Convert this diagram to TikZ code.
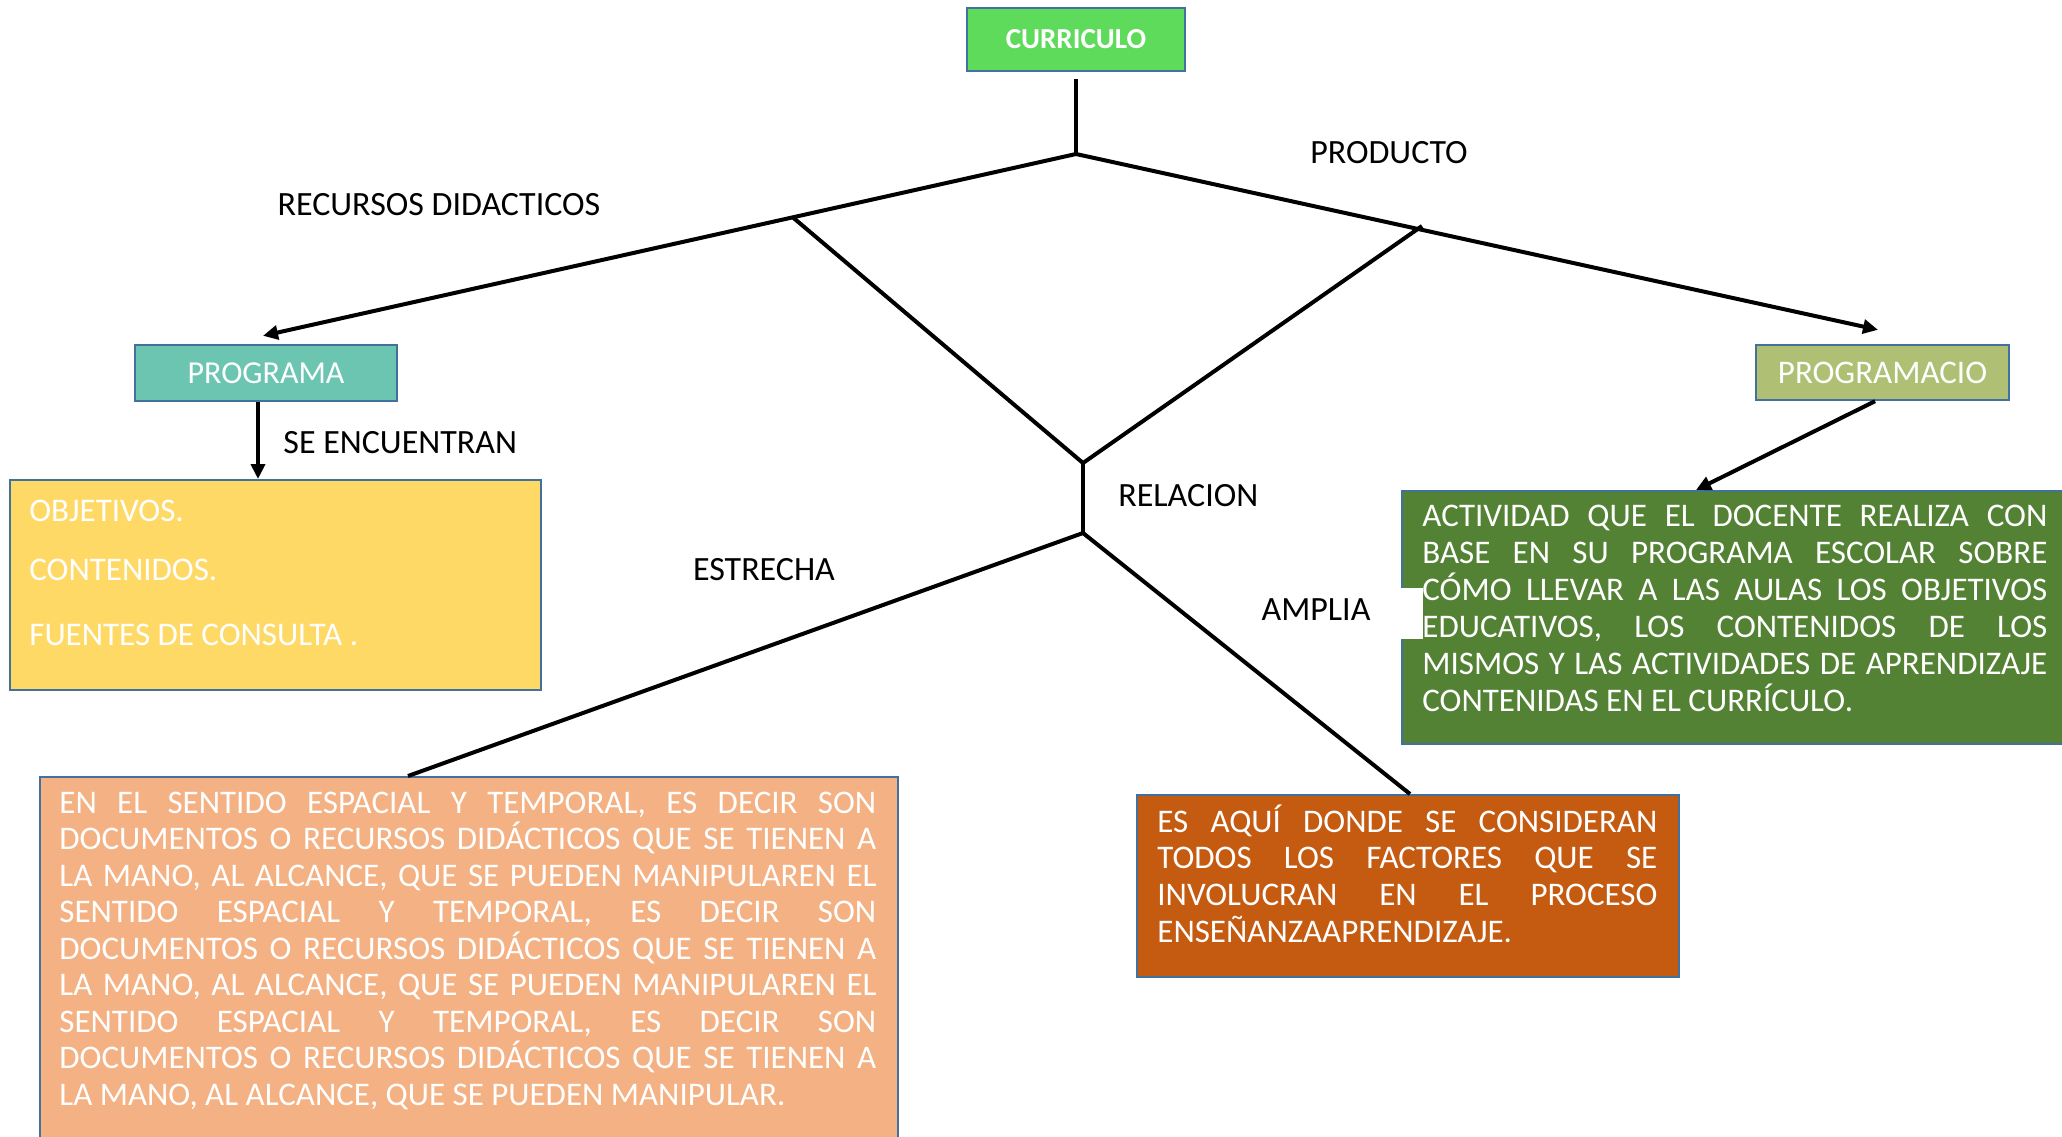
\documentclass[tikz,border=0pt]{standalone}
\usepackage{fontspec}
\setmainfont{Carlito}
\usepackage{xcolor}
\usetikzlibrary{arrows.meta}

\definecolor{curgreen}{HTML}{5EDB5B}
\definecolor{progteal}{HTML}{6CC5B1}
\definecolor{progolive}{HTML}{AFBF74}
\definecolor{boxyellow}{HTML}{FFD966}
\definecolor{boxgreen}{HTML}{548235}
\definecolor{boxsalmon}{HTML}{F4B183}
\definecolor{boxorange}{HTML}{C55A11}
\definecolor{boxedge}{HTML}{41719C}

\newcommand{\lnup}{\rule{0pt}{14pt}}

\begin{document}
\begin{tikzpicture}[x=0.5pt,y=-0.5pt,
  box/.style={draw=boxedge,line width=1.2pt,inner sep=0pt},
  conn/.style={line width=2pt},
  arr/.style={line width=2pt,-{Triangle[length=7.5pt,width=7pt]}},
  lbl/.style={font=\fontsize{17}{20}\selectfont,inner sep=0pt},
  bodytxt/.style={text=white,font=\fontsize{16.5}{18.3}\selectfont,inner sep=0pt,anchor=north west,align=justify}]
\useasboundingbox (0,0) rectangle (2062,1136);
\fill[white] (0,0) rectangle (2062,1136);
\clip (0,0) rectangle (2062,1136);

% boxes
\node[box,fill=curgreen,minimum width=109pt,minimum height=31.5pt,text=white,font=\fontsize{14.5}{17}\selectfont\bfseries] (curriculo) at (1076,39.5) {CURRICULO};
\node[box,fill=progteal,minimum width=131pt,minimum height=28pt,text=white,font=\fontsize{16}{19}\selectfont] (programa) at (266,373) {PROGRAMA};
\node[box,fill=progolive,minimum width=126.5pt,minimum height=27.5pt,text=white,font=\fontsize{16.5}{19}\selectfont] (programacio) at (1882.5,372.5) {PROGRAMACIO};
\node[box,fill=boxyellow,anchor=north west,minimum width=265.5pt,minimum height=105pt] (fuentes) at (9,479) {};
\node[box,fill=boxgreen,anchor=north west,minimum width=337pt,minimum height=126.5pt] (actividad) at (1401,490) {};
\fill[white] (1401,588) rectangle (1423,639);
\node[box,fill=boxsalmon,anchor=north west,minimum width=429pt,minimum height=190pt] (sentido) at (39,776) {};
\node[box,fill=boxorange,anchor=north west,minimum width=271pt,minimum height=91pt] (factores) at (1136,794) {};

% texts in the boxes
\node[bodytxt,align=left] (fuentestxt) at (29,492.6) {\lnup OBJETIVOS.\\[11.2pt]CONTENIDOS.\\[14.2pt]FUENTES DE CONSULTA .};
\node[bodytxt,text width=312.5pt,font=\fontsize{16.5}{18.5}\selectfont] (actividadtxt) at (1422,497.6) {\lnup ACTIVIDAD QUE EL DOCENTE REALIZA CON\linebreak
BASE EN SU PROGRAMA ESCOLAR SOBRE\linebreak
CÓMO LLEVAR A LAS AULAS LOS OBJETIVOS\linebreak
EDUCATIVOS, LOS CONTENIDOS DE LOS\linebreak
MISMOS Y LAS ACTIVIDADES DE APRENDIZAJE\linebreak
CONTENIDAS EN EL CURRÍCULO.};
\node[bodytxt,text width=408.5pt,font=\fontsize{16.5}{18.25}\selectfont] (sentidotxt) at (59,784.6) {\lnup EN EL SENTIDO ESPACIAL Y TEMPORAL, ES DECIR SON\linebreak
DOCUMENTOS O RECURSOS DIDÁCTICOS QUE SE TIENEN A\linebreak
LA MANO, AL ALCANCE, QUE SE PUEDEN MANIPULAREN EL\linebreak
SENTIDO ESPACIAL Y TEMPORAL, ES DECIR SON\linebreak
DOCUMENTOS O RECURSOS DIDÁCTICOS QUE SE TIENEN A\linebreak
LA MANO, AL ALCANCE, QUE SE PUEDEN MANIPULAREN EL\linebreak
SENTIDO ESPACIAL Y TEMPORAL, ES DECIR SON\linebreak
DOCUMENTOS O RECURSOS DIDÁCTICOS QUE SE TIENEN A\linebreak
LA MANO, AL ALCANCE, QUE SE PUEDEN MANIPULAR.};
\node[bodytxt,text width=250pt,font=\fontsize{16.5}{18.35}\selectfont] (factorestxt) at (1157,803.6) {\lnup ES AQUÍ DONDE SE CONSIDERAN\linebreak
TODOS LOS FACTORES QUE SE\linebreak
INVOLUCRAN EN EL PROCESO\linebreak
ENSEÑANZAAPRENDIZAJE.};

% labels
\node[lbl] (producto) at (1389,153) {PRODUCTO};
\node[lbl] (recursos) at (439,205) {RECURSOS DIDACTICOS};
\node[lbl,anchor=west] (encuentran) at (283,443) {SE ENCUENTRAN};
\node[lbl,anchor=west] (relacion) at (1118,496) {RELACION};
\node[lbl] (estrecha) at (764,570) {ESTRECHA};
\node[lbl] (amplia) at (1316,610) {AMPLIA};

% connectors
\coordinate (j1) at (1076,154);
\coordinate (jl) at (793,217.5);
\coordinate (jr) at (1422,226);
\coordinate (jrel) at (1083,463);
\coordinate (jrel2) at (1083,533);
\coordinate (pa) at ([xshift=-4pt]programa.south);

\draw[conn] ([yshift=-3.5pt]curriculo.south) -- (j1);
\draw[arr] (j1) -- ([xshift=-1.5pt,yshift=4pt]programa.north);
\draw[arr] (j1) -- ([xshift=-2.25pt,yshift=7pt]programacio.north);
\draw[conn] (jl) -- (jrel) -- (jr);
\draw[conn] (jrel) -- (jrel2);
\draw[conn] (jrel2) -- ([xshift=184.5pt]sentido.north west);
\draw[conn] (jrel2) -- ([xshift=137pt]factores.north west);
\draw[arr] (pa) -- (pa |- fuentes.north);
\draw[arr] ([xshift=-3.75pt]programacio.south) -- ([xshift=147.5pt]actividad.north west);
\end{tikzpicture}
\end{document}
